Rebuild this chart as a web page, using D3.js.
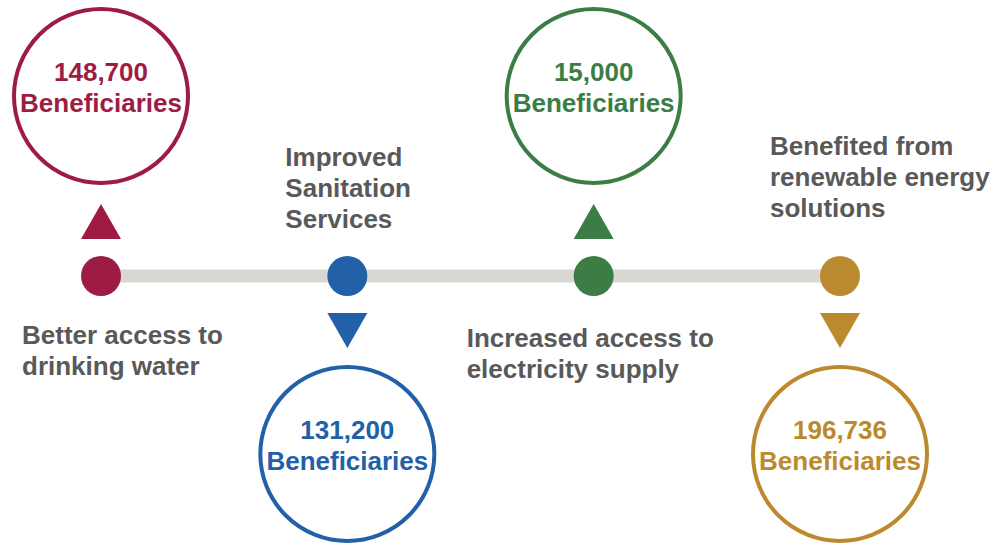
<!DOCTYPE html>
<html>
<head>
<meta charset="utf-8">
<script src="https://cdn.jsdelivr.net/npm/d3@7"></script>
<style>
    body { margin: 0; background: #fff; }
    svg text { font-family: "Liberation Sans", Arial, Helvetica, sans-serif; font-weight: bold; }
</style>
</head>
<body>
<div id="timeline"></div>
<script>
// Data
var categories = ['water', 'sanitation', 'electricity', 'renewable'];
var beneficiaries = [148700, 131200, 15000, 196736];
var labels = [
    ['Better access to', 'drinking water'],
    ['Improved', 'Sanitation', 'Services'],
    ['Increased access to', 'electricity supply'],
    ['Benefited from', 'renewable energy', 'solutions']
];
var colors = ['#9e1c44', '#2260a8', '#3b7d45', '#bc8a2e'];

// Label placement relative to each dot (layout only)
var labelLayout = [
    { dx: -79, y: 344 },
    { dx: -62, y: 166 },
    { dx: -127, y: 347 },
    { dx: -70, y: 155 }
];

var svgWidth = 999;
var svgHeight = 545;

var svg = d3.select('#timeline')
    .append('svg')
    .attr('width', svgWidth)
    .attr('height', svgHeight);

var lineY = 276;
var bubbleR = 87;
var format = d3.format(',');

var xScale = d3.scalePoint()
    .domain(categories)
    .range([101, 840]);

// bubble centre above or below the line, alternating
var bubbleY = d3.scaleOrdinal()
    .domain(['up', 'down'])
    .range([96, 454]);

var items = categories.map((c, i) => ({
    key: c,
    value: beneficiaries[i],
    label: labels[i],
    color: colors[i],
    side: i % 2 === 0 ? 'up' : 'down',
    layout: labelLayout[i]
}));

// Base line
svg.append('line')
    .attr('x1', xScale(categories[0]))
    .attr('x2', xScale(categories[categories.length - 1]))
    .attr('y1', lineY)
    .attr('y2', lineY)
    .attr('stroke', '#d8d7d3')
    .attr('stroke-width', 13);

var groups = svg.selectAll('.item')
    .data(items)
    .enter()
    .append('g')
    .classed('item', true);

// Dots on the line
groups.append('circle')
    .attr('cx', (d) => xScale(d.key))
    .attr('cy', lineY)
    .attr('r', 20)
    .attr('fill', (d) => d.color);

// Triangles pointing to the bubbles
function triangle(d) {
    var x = xScale(d.key);
    var p = d3.path();
    if (d.side === 'up') {
        p.moveTo(x, 204);
        p.lineTo(x + 20, 239);
        p.lineTo(x - 20, 239);
    } else {
        p.moveTo(x - 20, 313);
        p.lineTo(x + 20, 313);
        p.lineTo(x, 348);
    }
    p.closePath();
    return p.toString();
}

groups.append('path')
    .attr('d', triangle)
    .attr('fill', (d) => d.color);

// Bubbles
groups.append('circle')
    .attr('cx', (d) => xScale(d.key))
    .attr('cy', (d) => bubbleY(d.side))
    .attr('r', bubbleR)
    .attr('fill', 'none')
    .attr('stroke', (d) => d.color)
    .attr('stroke-width', 4);

groups.append('text')
    .attr('x', (d) => xScale(d.key))
    .attr('y', (d) => bubbleY(d.side) - 15.5)
    .attr('text-anchor', 'middle')
    .attr('font-size', 26)
    .attr('fill', (d) => d.color)
    .text((d) => format(d.value));

groups.append('text')
    .attr('x', (d) => xScale(d.key))
    .attr('y', (d) => bubbleY(d.side) + 15.5)
    .attr('text-anchor', 'middle')
    .attr('font-size', 26)
    .attr('fill', (d) => d.color)
    .text('Beneficiaries');

// Descriptions
groups.append('text')
    .attr('font-size', 26)
    .attr('fill', '#595959')
    .each(function(d) {
        var t = d3.select(this);
        d.label.forEach((line, j) => {
            t.append('tspan')
                .attr('x', xScale(d.key) + d.layout.dx)
                .attr('y', d.layout.y + j * 31)
                .text(line);
        });
    });
</script>
</body>
</html>
